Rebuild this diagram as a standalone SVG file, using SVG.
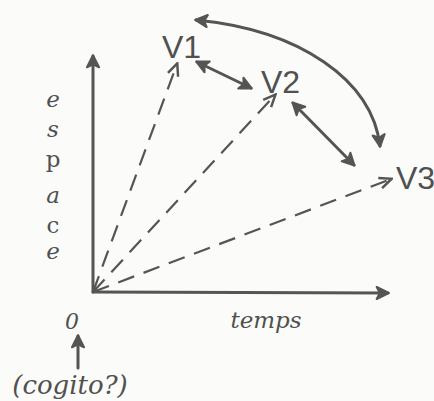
<svg xmlns="http://www.w3.org/2000/svg" width="434" height="401" viewBox="0 0 434 401">
<defs>
<style>
.ln{stroke:#555;stroke-width:3;fill:none;stroke-linecap:round}
.ds{stroke:#555;stroke-width:2.2;fill:none;stroke-dasharray:17 10}
.t{font-family:"DejaVu Serif",serif;fill:#505050}
.v{font-family:"Liberation Sans",sans-serif;fill:#505050;font-size:32px}
</style>
<marker id="ah" viewBox="0 0 10 10" refX="8.5" refY="5" markerWidth="5" markerHeight="5" orient="auto-start-reverse" markerUnits="strokeWidth">
<path d="M1,1 L9,5 L1,9 L3,5 Z" fill="#555" stroke="#555" stroke-width="1.4" stroke-linejoin="round"/>
</marker>
<marker id="ahs" viewBox="0 0 10 10" refX="8.5" refY="5" markerWidth="7" markerHeight="7" orient="auto" markerUnits="strokeWidth">
<path d="M1,1.5 L9,5 L1,8.5" fill="none" stroke="#555" stroke-width="1.6"/>
</marker>
</defs>
<rect width="434" height="401" fill="#fbfbfa"/>
<g id="connectors">
<line class="ln" x1="93" y1="292" x2="93" y2="56" marker-end="url(#ah)"/>
<line class="ln" x1="93" y1="292" x2="388" y2="293" marker-end="url(#ah)"/>
<line class="ds" x1="93" y1="292" x2="177" y2="64" marker-end="url(#ahs)"/>
<line class="ds" x1="93" y1="292" x2="275" y2="95" marker-end="url(#ahs)"/>
<line class="ds" x1="93" y1="292" x2="391" y2="179" marker-end="url(#ahs)"/>
<line class="ln" x1="197" y1="62" x2="251" y2="88" marker-start="url(#ah)" marker-end="url(#ah)"/>
<line class="ln" x1="293" y1="103" x2="354" y2="165" marker-start="url(#ah)" marker-end="url(#ah)"/>
<path class="ln" d="M196,20 C300,30 372,80 380,146" marker-start="url(#ah)" marker-end="url(#ah)"/>
<line class="ln" x1="78" y1="368" x2="78" y2="336" marker-end="url(#ah)"/>
</g>
<g id="v1"><text class="v" x="162" y="58">V1</text></g>
<g id="v2"><text class="v" x="261" y="93">V2</text></g>
<g id="v3"><text class="v" x="396" y="189">V3</text></g>
<g id="axis-labels">
<text class="t" font-size="23" x="53" text-anchor="middle" y="107" font-style="italic">e</text>
<text class="t" font-size="23" x="53" text-anchor="middle" y="137" font-style="italic">s</text>
<text class="t" font-size="23" x="53" text-anchor="middle" y="167">p</text>
<text class="t" font-size="23" x="53" text-anchor="middle" y="203" font-style="italic">a</text>
<text class="t" font-size="23" x="53" text-anchor="middle" y="233">c</text>
<text class="t" font-size="23" x="53" text-anchor="middle" y="259" font-style="italic">e</text>
<text class="t" font-size="22" x="72" text-anchor="middle" y="329" font-style="italic">0</text>
<text class="t" font-size="23" x="266" text-anchor="middle" y="328" font-style="italic">temps</text>
<text class="t" font-size="26" x="70" text-anchor="middle" y="394" font-style="italic">(cogito?)</text>
</g>
</svg>
